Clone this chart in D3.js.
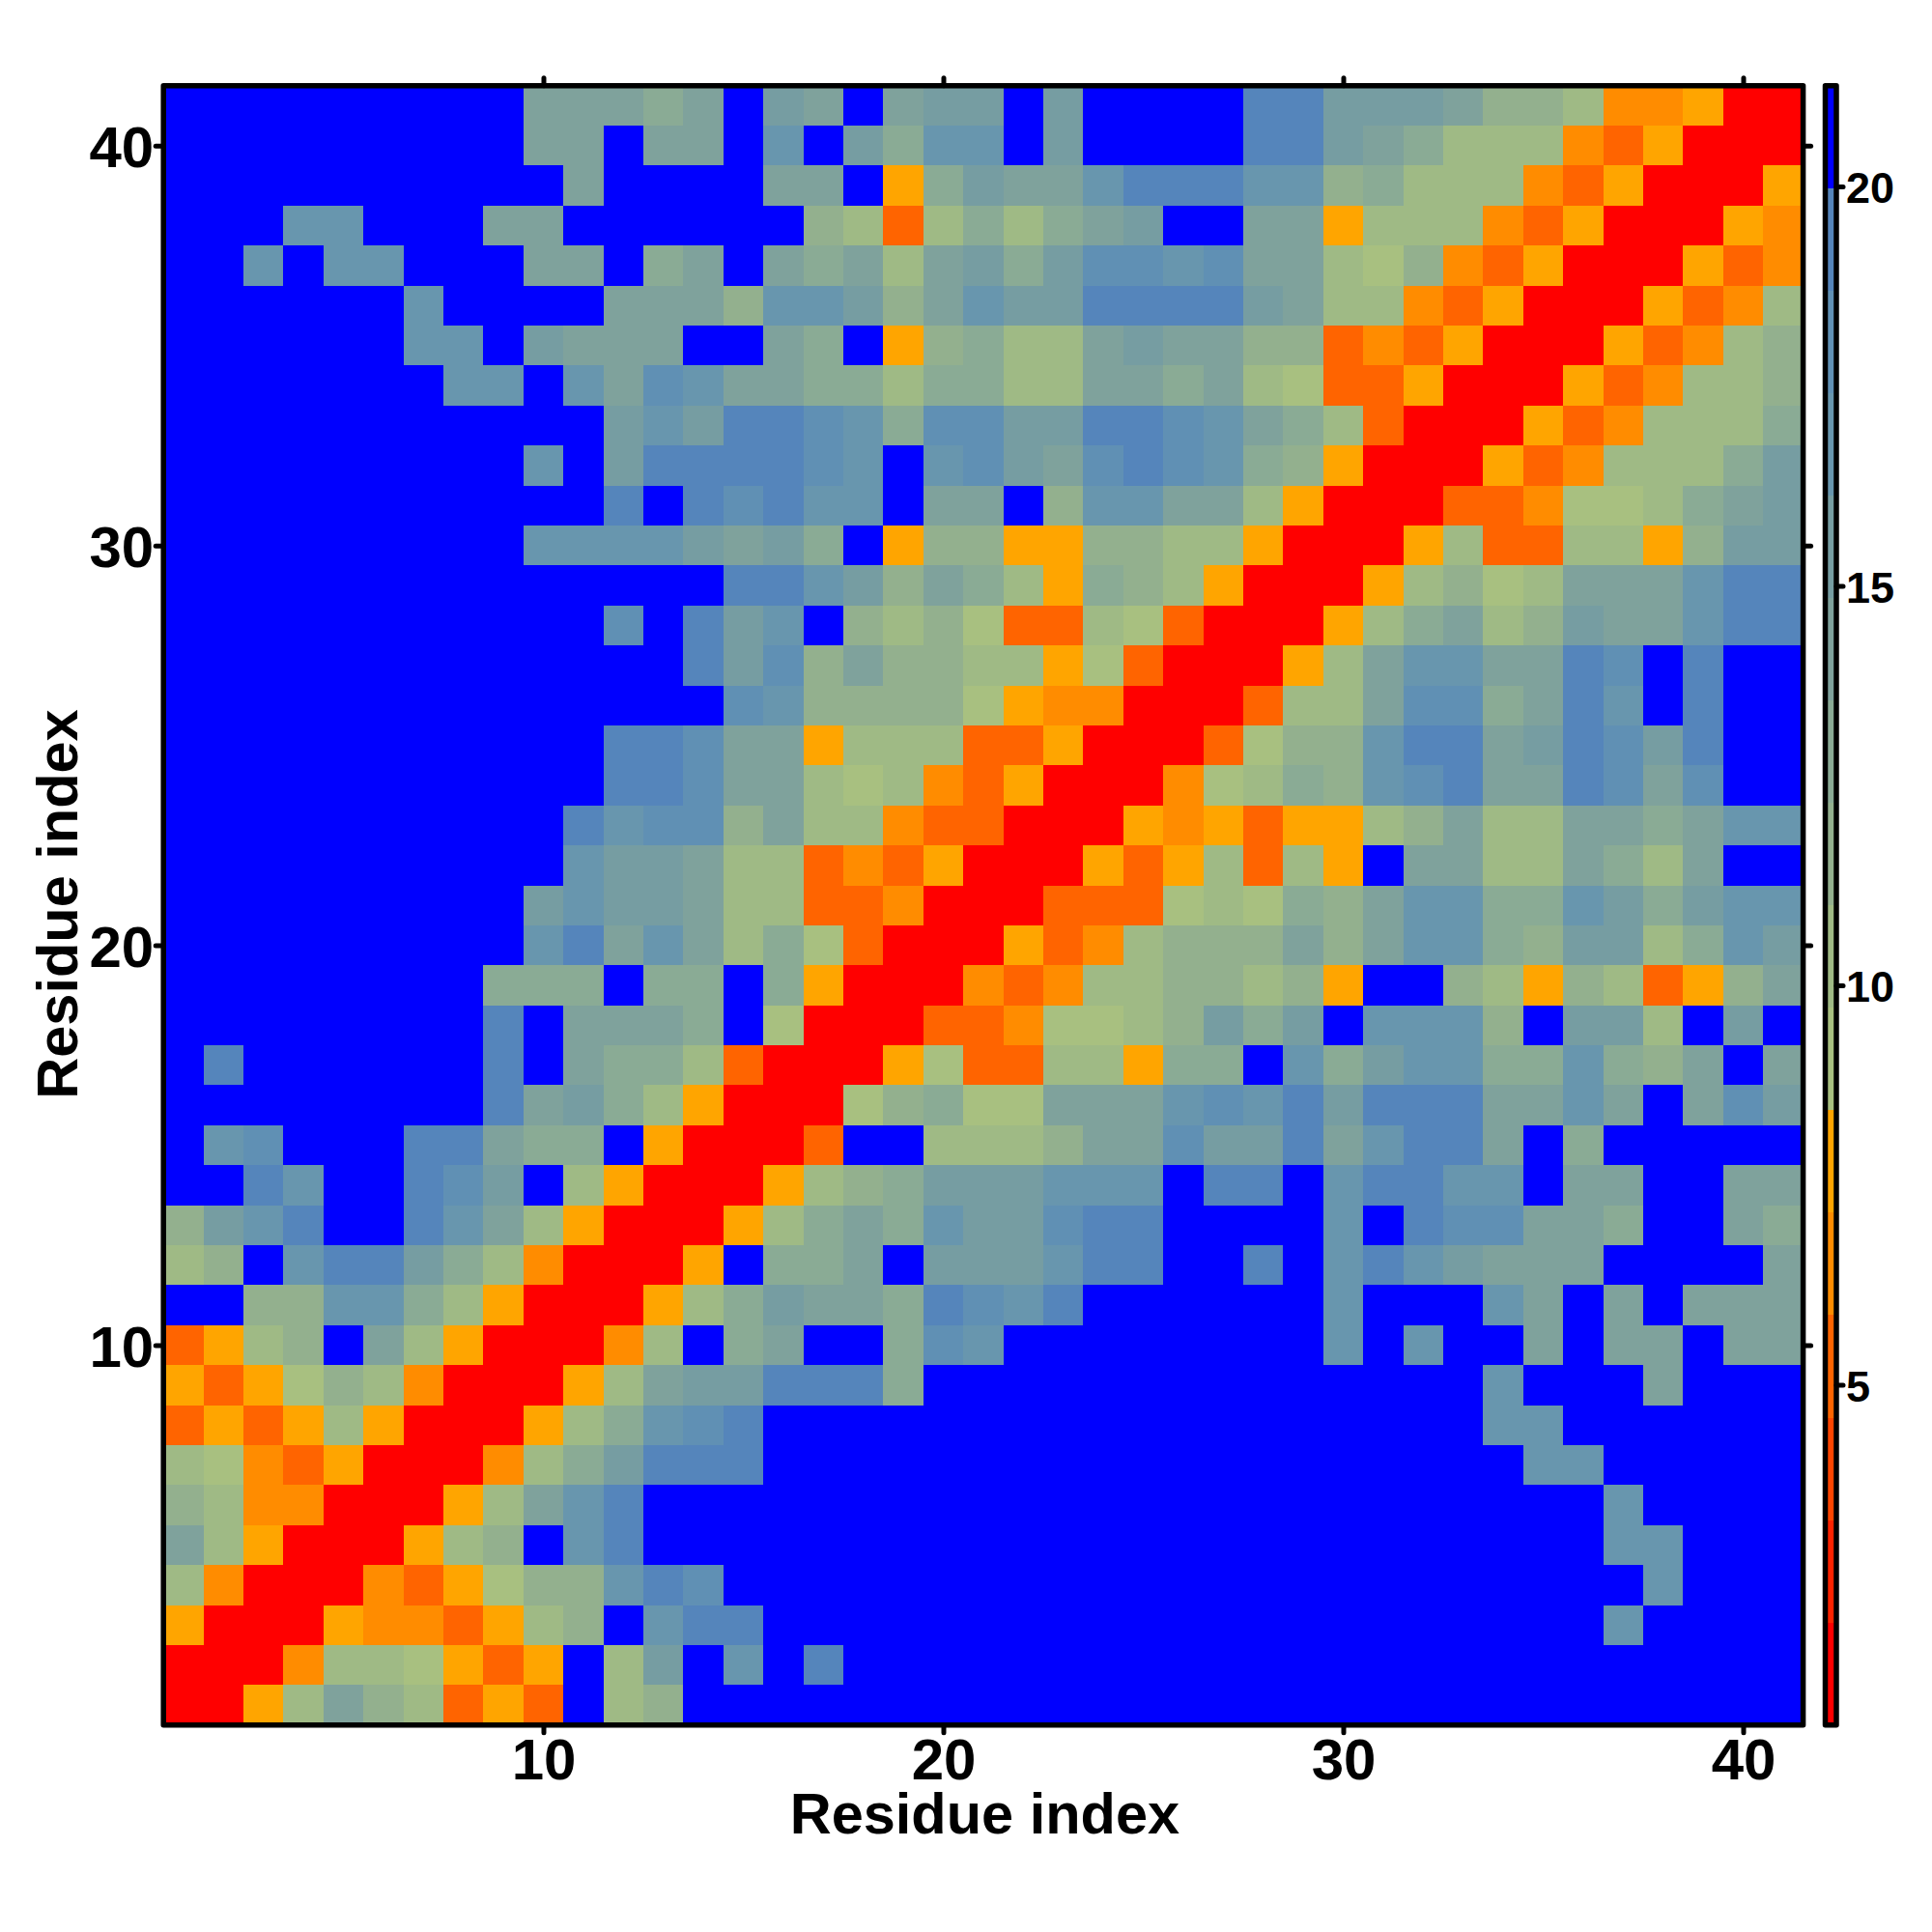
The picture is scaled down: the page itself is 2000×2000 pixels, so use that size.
<!DOCTYPE html>
<html>
<head>
<meta charset="utf-8">
<script src="https://cdn.jsdelivr.net/npm/d3@7/dist/d3.min.js"></script>
<style>
html,body{margin:0;padding:0;background:#fff}
svg{display:block}
text{font-family:"Liberation Sans",Arial,sans-serif;font-weight:bold;fill:#000}
</style>
</head>
<body>
<svg id="chart" width="2000" height="2000"></svg>
<script>
const xLabel = "Residue index";
const yLabel = "Residue index";
const axisTicks = [10, 20, 30, 40];
const barTicks = [5, 10, 15, 20];
const residueRange = [0.5, 41.5];
const distanceRange = [0.74, 21.26];
const palette = ["#ff0000","#ff2300","#ff4500","#ff6400","#ff8c00","#ffa500",
  "#a8c080","#9fba85","#93b08e","#8aab95","#7fa29c","#769da2","#6896ae","#6090b4","#5585bb","#0000ff"];

// rows listed from residue 41 (top) down to residue 1 (bottom); values estimated from the colour bins
const distanceRows = [
[21,21,21,21,21,21,21,21,21,14,14,14,13,14,21,15,14,21,14,15,15,21,15,21,21,21,21,19,19,15,15,15,14,11,11,10,6,6,8,1,1],
[21,21,21,21,21,21,21,21,21,14,14,21,14,14,21,17,21,15,13,17,17,21,15,21,21,21,21,19,19,15,14,13,10,10,10,6,5,8,1,1,1],
[21,21,21,21,21,21,21,21,21,21,14,21,21,21,21,14,14,21,8,13,15,14,14,17,19,19,19,17,17,11,13,10,10,10,6,5,8,1,1,1,8],
[21,21,21,17,17,21,21,21,14,14,21,21,21,21,21,21,11,10,5,10,13,10,13,14,15,21,21,14,14,8,10,10,10,6,5,8,1,1,1,8,6],
[21,21,17,21,17,17,21,21,21,14,14,21,13,14,21,14,13,14,10,14,15,13,15,18,18,17,18,14,14,10,9,11,6,5,8,1,1,1,8,5,6],
[21,21,21,21,21,21,17,21,21,21,21,14,14,14,11,17,17,15,11,14,17,15,15,19,19,19,19,15,14,10,10,6,5,8,1,1,1,8,5,6,10],
[21,21,21,21,21,21,17,17,21,15,14,14,14,21,21,14,13,21,8,11,13,10,10,14,15,14,14,11,11,5,6,5,8,1,1,1,8,5,6,10,11],
[21,21,21,21,21,21,21,17,17,21,17,14,18,17,14,14,13,13,10,13,13,10,10,14,14,13,14,10,9,5,5,8,1,1,1,8,5,6,10,10,11],
[21,21,21,21,21,21,21,21,21,21,21,15,17,15,19,19,18,17,13,18,18,15,15,19,19,18,17,14,13,10,5,1,1,1,8,5,6,10,10,10,13],
[21,21,21,21,21,21,21,21,21,17,21,15,19,19,19,19,18,17,21,17,18,15,14,18,19,18,17,13,11,8,1,1,1,8,5,6,10,10,10,13,15],
[21,21,21,21,21,21,21,21,21,21,21,19,21,19,18,19,17,17,21,14,14,21,11,17,17,14,14,10,8,1,1,1,5,5,6,9,9,10,13,14,15],
[21,21,21,21,21,21,21,21,21,17,17,17,17,15,14,15,13,21,8,11,11,8,8,11,11,10,10,8,1,1,1,8,10,5,5,10,10,8,11,15,15],
[21,21,21,21,21,21,21,21,21,21,21,21,21,21,19,19,17,15,11,14,13,10,8,13,11,10,8,1,1,1,8,10,11,9,10,14,14,14,17,19,19],
[21,21,21,21,21,21,21,21,21,21,21,18,21,19,15,17,21,11,10,11,9,5,5,10,9,5,1,1,1,8,10,13,14,10,11,15,14,14,17,19,19],
[21,21,21,21,21,21,21,21,21,21,21,21,21,19,15,18,11,14,11,11,10,10,8,9,5,1,1,1,8,10,14,17,17,14,14,19,18,21,19,21,21],
[21,21,21,21,21,21,21,21,21,21,21,21,21,21,18,17,11,11,11,11,9,8,6,6,1,1,1,5,10,10,14,18,18,13,14,19,17,21,19,21,21],
[21,21,21,21,21,21,21,21,21,21,21,19,19,18,14,14,8,10,10,10,5,5,8,1,1,1,5,9,11,11,17,19,19,14,15,19,18,15,19,21,21],
[21,21,21,21,21,21,21,21,21,21,21,19,19,18,14,14,10,9,10,6,5,8,1,1,1,6,9,10,13,11,17,18,19,14,14,19,18,14,18,21,21],
[21,21,21,21,21,21,21,21,21,21,19,17,18,18,11,14,10,10,6,5,5,1,1,1,8,6,8,5,8,8,10,11,14,10,10,14,14,13,14,17,17],
[21,21,21,21,21,21,21,21,21,21,17,15,15,14,10,10,5,6,5,8,1,1,1,8,5,8,10,5,10,8,21,14,14,10,10,14,13,10,14,21,21],
[21,21,21,21,21,21,21,21,21,15,17,15,15,14,10,10,5,5,6,1,1,1,5,5,5,9,10,9,13,11,14,17,17,13,13,17,15,13,15,17,17],
[21,21,21,21,21,21,21,21,21,17,19,14,17,14,10,13,9,5,1,1,1,8,5,6,10,11,11,11,14,11,14,17,17,13,11,15,15,10,13,17,15],
[21,21,21,21,21,21,21,21,13,13,13,21,13,13,21,13,8,1,1,1,6,5,6,10,10,11,11,10,11,8,21,21,11,10,8,11,10,5,8,11,14],
[21,21,21,21,21,21,21,21,19,21,14,14,14,13,21,9,1,1,1,5,5,6,9,9,10,11,15,13,15,21,17,17,17,11,21,15,15,10,21,15,21],
[21,19,21,21,21,21,21,21,19,21,14,13,13,10,5,1,1,1,8,9,5,5,10,10,8,13,13,21,17,13,15,17,17,13,13,17,13,11,14,21,14],
[21,21,21,21,21,21,21,21,19,14,15,13,10,8,1,1,1,9,11,13,9,9,14,14,14,17,18,17,19,15,19,19,19,14,14,17,14,21,14,18,15],
[21,17,18,21,21,21,19,19,14,13,13,21,8,1,1,1,5,21,21,10,10,10,11,14,14,18,15,15,19,14,17,19,19,14,21,13,21,21,21,21,21],
[21,21,19,17,21,21,19,18,15,21,10,8,1,1,1,8,10,11,13,15,15,15,17,17,17,21,19,19,21,17,19,19,17,17,21,14,14,21,21,14,14],
[11,15,17,19,21,21,19,17,14,10,8,1,1,1,8,10,13,14,13,17,15,15,18,19,19,21,21,21,21,17,21,19,18,18,14,14,13,21,21,14,13],
[10,11,21,17,19,19,15,13,10,6,1,1,1,8,21,13,13,14,21,15,15,15,17,19,19,21,21,19,21,17,19,17,15,14,14,14,21,21,21,21,14],
[21,21,11,11,17,17,13,10,8,1,1,1,8,10,13,15,14,14,13,19,18,17,19,21,21,21,21,21,21,17,21,21,21,17,14,21,14,21,14,14,14],
[5,8,10,11,21,14,10,8,1,1,1,6,10,21,13,14,21,21,13,18,17,21,21,21,21,21,21,21,21,17,21,17,21,21,14,21,14,14,21,14,14],
[8,5,8,9,11,10,6,1,1,1,8,10,14,15,15,19,19,19,13,21,21,21,21,21,21,21,21,21,21,21,21,21,21,17,21,21,21,14,21,21,21],
[5,8,5,8,10,8,1,1,1,8,10,13,17,18,19,21,21,21,21,21,21,21,21,21,21,21,21,21,21,21,21,21,21,17,17,21,21,21,21,21,21],
[10,9,6,5,8,1,1,1,6,10,13,15,19,19,19,21,21,21,21,21,21,21,21,21,21,21,21,21,21,21,21,21,21,21,17,17,21,21,21,21,21],
[11,10,6,6,1,1,1,8,10,14,17,19,21,21,21,21,21,21,21,21,21,21,21,21,21,21,21,21,21,21,21,21,21,21,21,21,17,21,21,21,21],
[14,10,8,1,1,1,8,10,11,21,17,19,21,21,21,21,21,21,21,21,21,21,21,21,21,21,21,21,21,21,21,21,21,21,21,21,17,17,21,21,21],
[10,6,1,1,1,6,5,8,9,11,11,17,19,18,21,21,21,21,21,21,21,21,21,21,21,21,21,21,21,21,21,21,21,21,21,21,21,17,21,21,21],
[8,1,1,1,8,6,6,5,8,10,11,21,17,19,19,21,21,21,21,21,21,21,21,21,21,21,21,21,21,21,21,21,21,21,21,21,17,21,21,21,21],
[1,1,1,6,10,10,9,8,5,8,21,10,15,21,17,21,19,21,21,21,21,21,21,21,21,21,21,21,21,21,21,21,21,21,21,21,21,21,21,21,21],
[1,1,8,10,14,11,10,5,8,5,21,10,11,21,21,21,21,21,21,21,21,21,21,21,21,21,21,21,21,21,21,21,21,21,21,21,21,21,21,21,21]
];

const plotLeft = 169.2, plotRight = 1866.6, plotTop = 88.7, plotBottom = 1785.7;
const barLeft = 1889.5, barRight = 1901;

const svg = d3.select("#chart");
const x = d3.scaleLinear().domain(residueRange).range([plotLeft, plotRight]);
const y = d3.scaleLinear().domain(residueRange).range([plotBottom, plotTop]);
const color = d3.scaleQuantize().domain(distanceRange).range(palette);
const barY = d3.scaleLinear().domain(distanceRange).range([plotBottom, plotTop]);

const cells = distanceRows.flatMap((row, r) =>
  row.map((value, c) => ({ i: c + 1, j: distanceRows.length - r, value })));

svg.append("g").attr("shape-rendering", "crispEdges")
  .selectAll("rect").data(cells).join("rect")
  .attr("x", d => x(d.i - 0.5))
  .attr("y", d => y(d.j + 0.5))
  .attr("width", d => x(d.i + 0.5) - x(d.i - 0.5))
  .attr("height", d => y(d.j - 0.5) - y(d.j + 0.5))
  .attr("fill", d => color(d.value));

function styleAxis(g, size) {
  g.select(".domain").remove();
  g.selectAll(".tick line").attr("stroke", "#000").attr("stroke-width", 5).attr("stroke-linecap", "round");
  g.selectAll(".tick text").attr("font-size", size).attr("font-weight", "bold").attr("fill", "#000");
}

svg.append("g").attr("transform", `translate(0,${plotBottom})`)
  .call(d3.axisBottom(x).tickValues(axisTicks).tickSize(8).tickPadding(6))
  .call(g => styleAxis(g, 60));
svg.append("g").attr("transform", `translate(${plotLeft},0)`)
  .call(d3.axisLeft(y).tickValues(axisTicks).tickSize(8).tickPadding(2))
  .call(g => styleAxis(g, 60))
  .call(g => g.selectAll(".tick text").attr("dy", "0.36em"));
svg.append("g").attr("transform", `translate(0,${plotTop})`)
  .call(d3.axisTop(x).tickValues(axisTicks).tickSize(8).tickFormat(""))
  .call(g => styleAxis(g, 60));
svg.append("g").attr("transform", `translate(${plotRight},0)`)
  .call(d3.axisRight(y).tickValues(axisTicks).tickSize(8).tickFormat(""))
  .call(g => styleAxis(g, 60));

svg.append("rect")
  .attr("x", plotLeft).attr("y", plotTop)
  .attr("width", plotRight - plotLeft).attr("height", plotBottom - plotTop)
  .attr("fill", "none").attr("stroke", "#000").attr("stroke-width", 5.5).attr("stroke-linejoin", "round");

const bins = palette.map(c => {
  const [lo, hi] = color.invertExtent(c);
  return { lo, hi, c };
});
svg.append("g").attr("shape-rendering", "crispEdges")
  .selectAll("rect").data(bins).join("rect")
  .attr("x", barLeft).attr("width", barRight - barLeft)
  .attr("y", d => barY(d.hi)).attr("height", d => barY(d.lo) - barY(d.hi))
  .attr("fill", d => d.c);
svg.append("g").attr("transform", `translate(${barRight},0)`)
  .call(d3.axisRight(barY).tickValues(barTicks).tickSize(7).tickPadding(3))
  .call(g => styleAxis(g, 45))
  .call(g => g.selectAll(".tick text").attr("dy", "0.37em"));
svg.append("rect")
  .attr("x", barLeft).attr("y", plotTop)
  .attr("width", barRight - barLeft).attr("height", plotBottom - plotTop)
  .attr("fill", "none").attr("stroke", "#000").attr("stroke-width", 5.5).attr("stroke-linejoin", "round");

svg.append("text").attr("x", (plotLeft + plotRight) / 2 + 1.5).attr("y", 1898)
  .attr("text-anchor", "middle").attr("font-size", 59.5).text(xLabel);
svg.append("text").attr("transform", `translate(80,936) rotate(-90)`)
  .attr("text-anchor", "middle").attr("font-size", 59.5).text(yLabel);
</script>
</body>
</html>
